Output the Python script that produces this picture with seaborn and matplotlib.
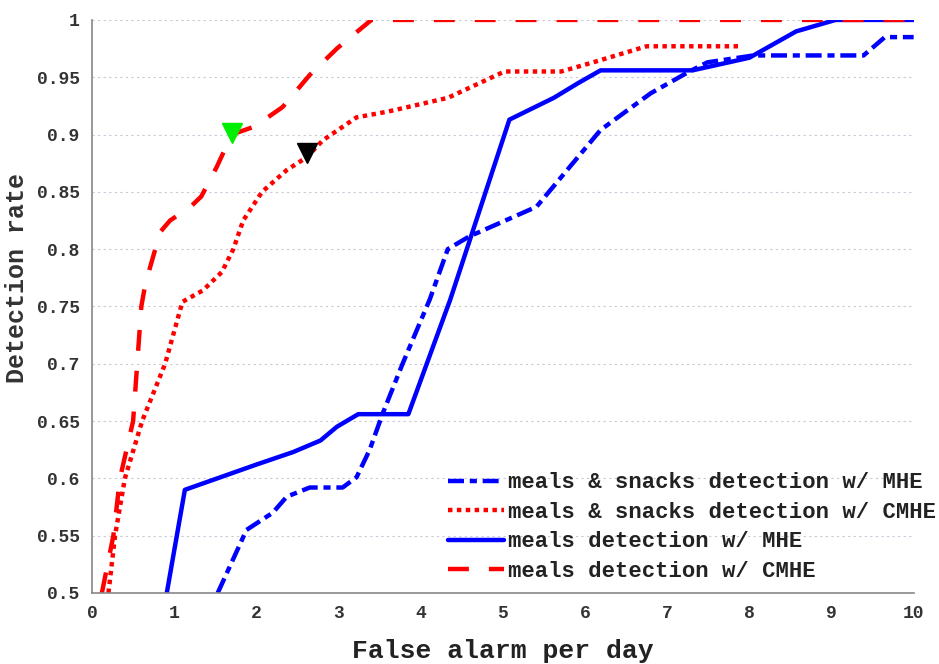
import numpy as np
import matplotlib
matplotlib.use("Agg")
import matplotlib.pyplot as plt
import seaborn as sns

# Meals & snacks detection w/ MHE (blue dash-dot)
snack_mhe_x = [1.53, 1.88, 2.2, 2.37, 2.65, 3.05, 3.22, 3.38, 3.54, 3.78, 4.11,
               4.33, 4.59, 5.41, 6.19, 6.8, 7.27, 7.49, 8.05, 9.39, 9.65, 10.0]
snack_mhe_y = [0.5, 0.555, 0.57, 0.584, 0.592, 0.592, 0.601, 0.625, 0.657, 0.70, 0.756,
               0.80, 0.811, 0.837, 0.904, 0.936, 0.955, 0.963, 0.969, 0.969, 0.985, 0.985]

# Meals & snacks detection w/ CMHE (red dotted)
snack_cmhe_x = [0.2, 0.28, 0.40, 0.61, 0.89, 1.1, 1.35, 1.58, 1.72, 1.84, 2.07,
                2.37, 2.61, 2.81, 3.22, 3.6, 4.33, 5.02, 5.71, 6.1, 6.75, 7.88]
snack_cmhe_y = [0.5, 0.55, 0.6, 0.65, 0.7, 0.754, 0.764, 0.78, 0.80, 0.825, 0.85,
                0.869, 0.88, 0.895, 0.915, 0.92, 0.932, 0.955, 0.955, 0.963, 0.977, 0.977]

# Meals detection w/ MHE (blue solid)
meal_mhe_x = [0.91, 1.13, 2.0, 2.45, 2.78, 2.98, 3.24, 3.85, 4.36, 5.08, 5.62,
              5.92, 6.19, 7.31, 8.0, 8.57, 9.05, 10.0]
meal_mhe_y = [0.5, 0.59, 0.612, 0.623, 0.633, 0.645, 0.656, 0.656, 0.756, 0.913, 0.932,
              0.945, 0.956, 0.956, 0.967, 0.99, 1.0, 1.0]

# Meals detection w/ CMHE (red dashed)
meal_cmhe_x = [0.12, 0.26, 0.34, 0.5, 0.6, 0.65, 0.83, 0.95, 1.2, 1.33, 1.52,
               1.7, 1.98, 2.32, 2.65, 2.98, 3.4, 10.0]
meal_cmhe_y = [0.5, 0.55, 0.6, 0.65, 0.75, 0.77, 0.815, 0.825, 0.837, 0.846, 0.872,
               0.9, 0.907, 0.924, 0.952, 0.975, 1.0, 1.0]

# operating points
green_pt = (1.7, 0.901)
black_pt = (2.62, 0.884)

labels = ["meals & snacks detection w/ MHE",
          "meals & snacks detection w/ CMHE",
          "meals detection w/ MHE",
          "meals detection w/ CMHE"]

sns.set_style("white")
plt.rcParams["font.family"] = ["Liberation Mono", "DejaVu Sans Mono"]
plt.rcParams["font.weight"] = "bold"

fig, ax = plt.subplots(figsize=(9.39, 6.64), dpi=100)
fig.subplots_adjust(left=0.098, right=0.973, bottom=0.107, top=0.970)

lw = 3.2
sns.lineplot(x=snack_mhe_x, y=snack_mhe_y, ax=ax, color="#0000ff", lw=lw,
             sort=False, estimator=None, label=labels[0],
             linestyle=(0, (3.6, 1.3, 1.6, 1.3)))
sns.lineplot(x=snack_cmhe_x, y=snack_cmhe_y, ax=ax, color="#ff0000", lw=lw,
             sort=False, estimator=None, label=labels[1],
             linestyle=(0, (1.0, 1.0)))
sns.lineplot(x=meal_mhe_x, y=meal_mhe_y, ax=ax, color="#0000ff", lw=lw,
             sort=False, estimator=None, label=labels[2], linestyle="-")
sns.lineplot(x=meal_cmhe_x, y=meal_cmhe_y, ax=ax, color="#ff0000", lw=lw,
             sort=False, estimator=None, label=labels[3],
             linestyle=(0, (4.7, 4.5)))

ax.plot([green_pt[0]], [green_pt[1]], marker="v", ms=15, color="#00ee00",
        ls="none", zorder=5)
ax.plot([black_pt[0]], [black_pt[1]], marker="v", ms=15, color="black",
        ls="none", zorder=5)

ax.set_xlim(0, 10)
ax.set_ylim(0.5, 1.0)
ax.set_xticks(np.arange(0, 11, 1))
ax.set_yticks(np.arange(0.5, 1.0001, 0.05))
ax.set_xticklabels([str(i) for i in range(11)])
ax.set_yticklabels(["0.5", "0.55", "0.6", "0.65", "0.7", "0.75", "0.8",
                    "0.85", "0.9", "0.95", "1"])
ax.tick_params(direction="in", length=6, width=1, labelsize=13, colors="#333333",
               pad=9)
for lab in ax.get_xticklabels() + ax.get_yticklabels():
    lab.set_fontweight("bold")

ax.yaxis.grid(True, color="#c8c8d8", linestyle=(0, (2, 3)), linewidth=0.8)
ax.xaxis.grid(False)
sns.despine(ax=ax)
for side in ["left", "bottom"]:
    ax.spines[side].set_color("#888888")
    ax.spines[side].set_linewidth(1.2)

ax.set_xlabel("False alarm per day", fontsize=19, fontweight="bold", labelpad=12,
              color="#222222")
ax.set_ylabel("Detection rate", fontsize=18, fontweight="bold", color="#333333")
ax.yaxis.set_label_coords(-0.077, 0.55)

leg = ax.legend(loc="lower right", bbox_to_anchor=(1.038, 0.004), frameon=False,
                fontsize=16, handlelength=2.5, handletextpad=0.2,
                labelspacing=0.38, borderaxespad=0.0)
for t in leg.get_texts():
    t.set_fontweight("bold")
    t.set_color("#222222")

fig.savefig("out.png", dpi=100)
